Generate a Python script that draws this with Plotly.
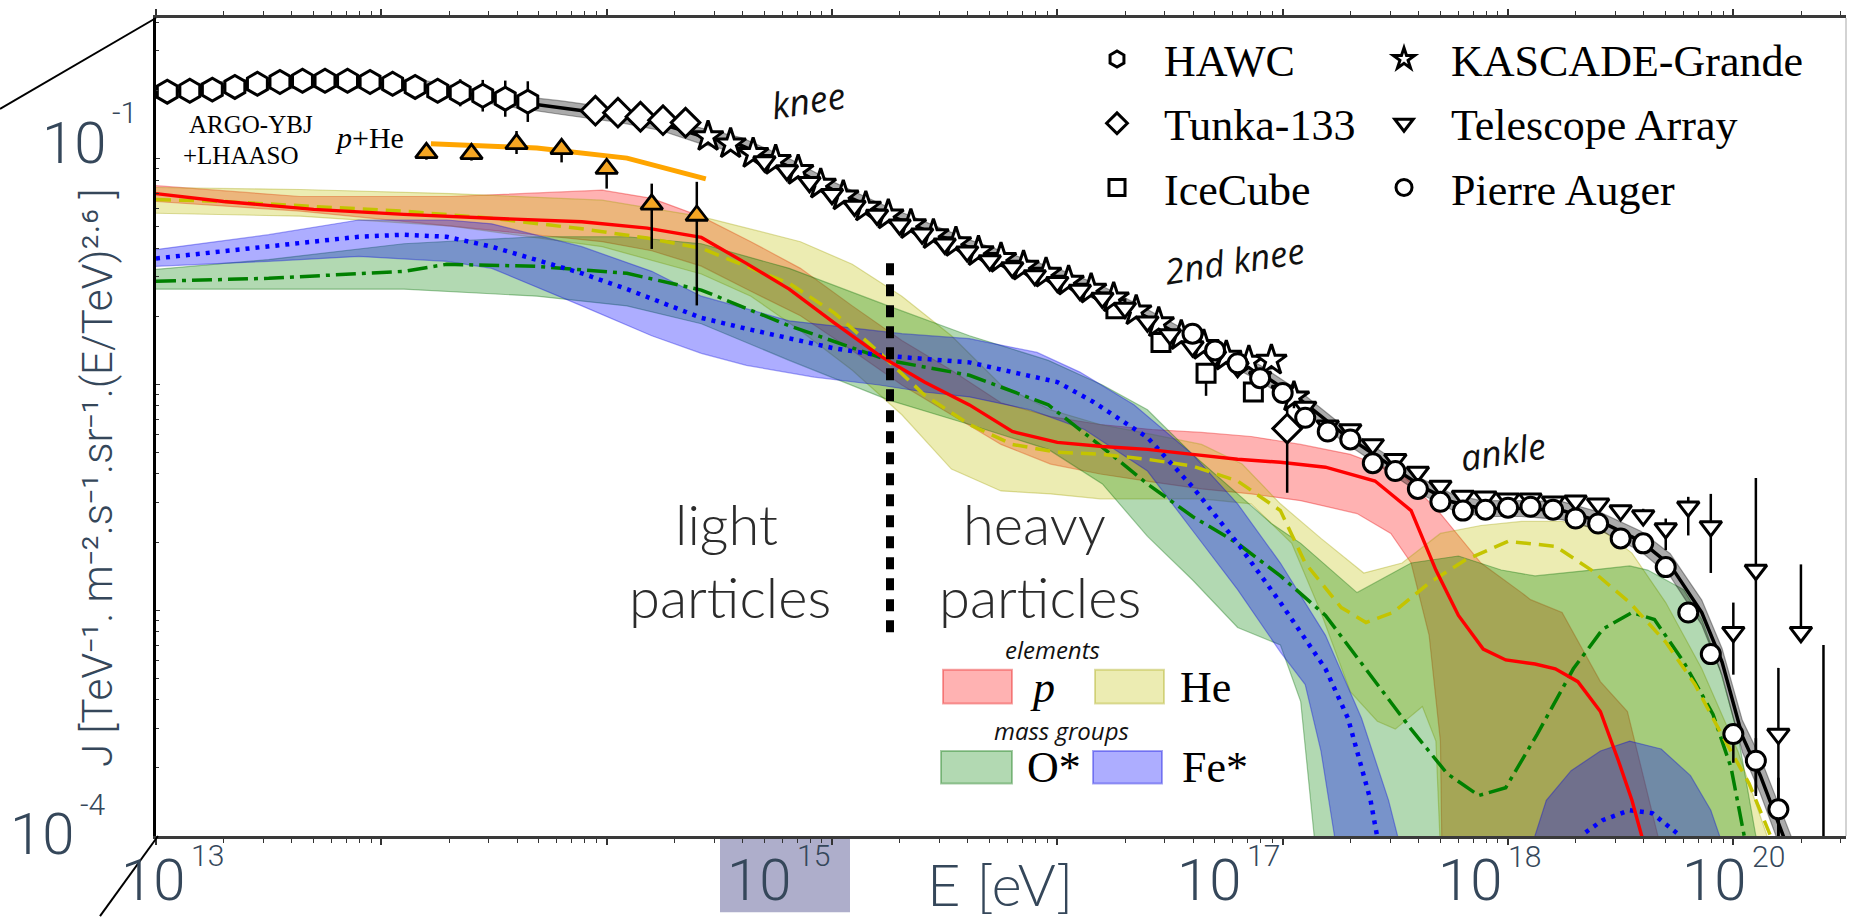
import numpy as np
import plotly.graph_objects as go

W, H = 1871, 917
PL, PR, PT, PB = 156, 1846, 9, 836


def fx(x):
    return (x - PL) / (PR - PL)


def fy(y):
    return (PB - y) / (PB - PT)


def V(a):
    return (10.0 ** np.asarray(a, dtype=float)).tolist()


# ---------------- data: log10(E / eV) and log10(J) ----------------
# all-particle model (line + band)
allp_logE = [13.0, 13.42, 13.78, 14.18, 14.53, 14.80, 15.06, 15.24, 15.42, 15.60, 15.82, 16.0, 16.22,
             16.40, 16.62, 16.80, 17.02, 17.19, 17.37, 17.55, 17.73, 17.90, 18.08, 18.26, 18.44, 18.62,
             18.75, 18.88, 19.06, 19.24, 19.41, 19.59, 19.72, 19.86, 19.95, 20.04, 20.12, 20.26]
allp_logJ = [-0.711, -0.675, -0.660, -0.680, -0.742, -0.777, -0.813, -0.848, -0.902, -0.945, -1.042,
             -1.138, -1.239, -1.313, -1.400, -1.462, -1.532, -1.597, -1.689, -1.786, -1.864, -1.952,
             -2.070, -2.214, -2.333, -2.455, -2.521, -2.551, -2.551, -2.560, -2.608, -2.696, -2.801,
             -3.011, -3.230, -3.558, -3.733, -4.1]
allp_halfw = [0.025, 0.025, 0.025, 0.025, 0.025, 0.03, 0.03, 0.03, 0.035, 0.035, 0.035, 0.035, 0.035,
              0.035, 0.035, 0.035, 0.035, 0.035, 0.035, 0.035, 0.035, 0.035, 0.035, 0.035, 0.035, 0.035,
              0.035, 0.035, 0.035, 0.04, 0.04, 0.045, 0.05, 0.055, 0.06, 0.07, 0.08, 0.09]

# proton
p_line_logE = [13.0, 13.30, 13.70, 14.10, 14.49, 14.89, 15.18, 15.42, 15.62, 15.81, 16.01, 16.21, 16.41,
               16.61, 16.80, 17.0, 17.2, 17.4, 17.6, 17.8, 17.99, 18.19, 18.41, 18.57, 18.68, 18.78,
               18.89, 18.99, 19.12, 19.21, 19.31, 19.41, 19.49, 19.55, 19.61]
p_line_logJ = [-1.157, -1.192, -1.227, -1.249, -1.266, -1.282, -1.310, -1.351, -1.466, -1.580, -1.729,
               -1.873, -1.991, -2.092, -2.210, -2.258, -2.276, -2.289, -2.311, -2.333, -2.346, -2.368,
               -2.429, -2.560, -2.823, -3.024, -3.173, -3.221, -3.239, -3.260, -3.317, -3.449, -3.667,
               -3.842, -4.06]
p_up_logE = [13.0, 13.64, 14.31, 14.98, 15.20, 15.42, 15.64, 15.86, 16.09, 16.31, 16.53, 16.75, 16.97,
             17.19, 17.42, 17.64, 17.86, 18.08, 18.30, 18.53, 18.70, 18.88, 19.06, 19.10, 19.24, 19.41,
             19.53, 19.64, 19.68]
p_up_logJ = [-1.122, -1.170, -1.170, -1.142, -1.178, -1.259, -1.370, -1.488, -1.654, -1.807, -1.939,
             -2.083, -2.144, -2.179, -2.201, -2.214, -2.232, -2.267, -2.311, -2.398, -2.573, -2.792,
             -2.923, -2.954, -3.011, -3.317, -3.449, -3.908, -4.06]
p_lo_logE = [13.0, 13.64, 14.31, 14.98, 15.20, 15.42, 15.64, 15.86, 16.09, 16.31, 16.53, 16.75, 16.97,
             17.19, 17.42, 17.64, 17.86, 18.08, 18.33, 18.48, 18.57, 18.65, 18.70, 18.71, 19.68]
p_lo_logJ = [-1.192, -1.235, -1.301, -1.370, -1.410, -1.478, -1.589, -1.698, -1.851, -2.004, -2.136,
             -2.267, -2.354, -2.398, -2.433, -2.464, -2.486, -2.516, -2.573, -2.661, -2.792, -3.112,
             -3.580, -4.3, -4.3]

# helium
he_line_logE = [13.0, 13.30, 13.70, 14.10, 14.49, 14.89, 15.18, 15.42, 15.62, 15.81, 16.01, 16.21,
                16.41, 16.61, 16.80, 17.0, 17.2, 17.4, 17.6, 17.8, 17.99, 18.10, 18.26, 18.37, 18.49,
                18.65, 18.81, 19.0, 19.21, 19.37, 19.54, 19.70, 19.83, 19.94, 20.07, 20.19]
he_line_logJ = [-1.183, -1.192, -1.214, -1.235, -1.266, -1.313, -1.354, -1.399, -1.479, -1.554, -1.685,
                -1.860, -2.048, -2.179, -2.267, -2.302, -2.311, -2.333, -2.363, -2.429, -2.560, -2.792,
                -2.989, -3.055, -3.011, -2.880, -2.779, -2.696, -2.718, -2.823, -2.967, -3.142, -3.330,
                -3.536, -3.768, -4.06]
he_up_logE = [13.0, 13.64, 14.31, 14.98, 15.42, 15.64, 15.86, 16.09, 16.31, 16.53, 16.75, 16.97, 17.19,
              17.42, 17.64, 17.82, 17.99, 18.17, 18.36, 18.53, 18.70, 18.88, 19.06, 19.24, 19.41, 19.55,
              19.70, 19.86, 20.02, 20.15, 20.19]
he_up_logJ = [-1.130, -1.139, -1.157, -1.186, -1.259, -1.313, -1.370, -1.470, -1.611, -1.786, -2.004,
              -2.114, -2.179, -2.223, -2.267, -2.354, -2.530, -2.683, -2.836, -2.792, -2.661, -2.626,
              -2.608, -2.608, -2.639, -2.748, -2.967, -3.260, -3.624, -4.0, -4.06]
he_lo_logE = [13.0, 13.64, 14.31, 14.98, 15.42, 15.64, 15.86, 16.09, 16.31, 16.53, 16.75, 16.97, 17.19,
              17.42, 17.64, 17.86, 18.04, 18.17, 18.30, 18.42, 18.50, 18.62, 18.68, 18.71, 20.19]
he_lo_logJ = [-1.244, -1.257, -1.301, -1.392, -1.513, -1.611, -1.764, -1.939, -2.136, -2.376, -2.473,
              -2.486, -2.508, -2.508, -2.508, -2.530, -2.705, -3.011, -3.361, -3.492, -3.527, -3.427,
              -3.580, -4.3, -4.3]

# O* mass group
o_line_logE = [13.0, 13.50, 14.10, 14.29, 14.69, 15.09, 15.42, 15.81, 16.25, 16.61, 16.96, 17.2, 17.4,
               17.6, 17.8, 17.99, 18.19, 18.41, 18.57, 18.73, 18.87, 18.99, 19.13, 19.29, 19.42, 19.55,
               19.65, 19.78, 19.91, 19.99, 20.06]
o_line_logJ = [-1.545, -1.532, -1.501, -1.470, -1.479, -1.510, -1.584, -1.742, -1.895, -1.961, -2.092,
               -2.280, -2.442, -2.586, -2.705, -2.849, -3.024, -3.317, -3.527, -3.724, -3.821, -3.786,
               -3.549, -3.260, -3.085, -3.011, -3.042, -3.230, -3.462, -3.698, -4.06]
o_up_logE = [13.0, 13.50, 14.10, 14.69, 15.09, 15.42, 15.81, 16.25, 16.61, 16.96, 17.2, 17.4, 17.6,
             17.8, 17.95, 18.08, 18.33, 18.57, 18.78, 18.97, 19.12, 19.37, 19.54, 19.62, 19.78, 19.86,
             19.94, 20.02, 20.10, 20.12]
o_up_logJ = [-1.492, -1.449, -1.379, -1.348, -1.348, -1.379, -1.488, -1.654, -1.786, -1.895, -2.004,
             -2.114, -2.311, -2.486, -2.617, -2.705, -2.923, -2.792, -2.761, -2.823, -2.849, -2.823,
             -2.805, -2.823, -2.910, -3.042, -3.260, -3.549, -4.0, -4.06]
o_lo_logE = [13.0, 13.50, 14.10, 14.69, 15.09, 15.42, 15.81, 16.25, 16.61, 16.96, 17.2, 17.4, 17.6,
             17.8, 17.99, 18.08, 18.17, 20.12]
o_lo_logJ = [-1.580, -1.580, -1.580, -1.611, -1.654, -1.733, -1.895, -2.070, -2.179, -2.289, -2.442,
             -2.674, -2.867, -3.077, -3.155, -3.405, -4.3, -4.3]

# Fe* mass group
fe_line_logE = [13.0, 13.50, 13.90, 14.10, 14.29, 14.49, 14.69, 14.89, 15.09, 15.29, 15.42, 15.62,
                15.81, 16.01, 16.21, 16.41, 16.61, 16.80, 17.0, 17.16, 17.4, 17.6, 17.8, 17.99, 18.19,
                18.29, 18.39, 18.43]
fe_line_logJ = [-1.444, -1.392, -1.348, -1.339, -1.348, -1.392, -1.449, -1.510, -1.580, -1.654, -1.707,
                -1.755, -1.799, -1.842, -1.873, -1.886, -1.904, -1.947, -1.991, -2.079, -2.236, -2.455,
                -2.705, -2.967, -3.260, -3.479, -3.842, -4.06]
fe_up_logE = [13.0, 13.50, 13.90, 14.29, 14.49, 14.89, 15.20, 15.42, 15.81, 16.01, 16.31, 16.61, 16.91,
              17.10, 17.34, 17.6, 17.8, 17.99, 18.19, 18.35, 18.47, 18.51, 18.53]
fe_up_logJ = [-1.405, -1.339, -1.274, -1.274, -1.291, -1.392, -1.501, -1.611, -1.720, -1.742, -1.777,
              -1.799, -1.860, -1.947, -2.092, -2.311, -2.530, -2.792, -3.112, -3.479, -3.842, -4.0, -4.06]
fe_lo_logE = [13.0, 13.50, 13.90, 14.29, 14.49, 14.89, 15.20, 15.42, 15.62, 15.92, 16.21, 16.41, 16.61,
              16.88, 17.12, 17.4, 17.6, 17.8, 17.99, 18.10, 18.17, 18.23, 18.25]
fe_lo_logJ = [-1.479, -1.457, -1.435, -1.457, -1.488, -1.654, -1.786, -1.864, -1.917, -1.969, -2.004,
              -2.035, -2.057, -2.114, -2.201, -2.385, -2.648, -2.910, -3.186, -3.330, -3.624, -4.0, -4.06]
fe2_line_logE = [19.30, 19.34, 19.42, 19.54, 19.64, 19.75, 19.78]
fe2_line_logJ = [-4.06, -3.987, -3.930, -3.886, -3.899, -3.987, -4.06]
fe2_up_logE = [19.10, 19.17, 19.28, 19.41, 19.54, 19.68, 19.81, 19.90, 19.96]
fe2_up_logJ = [-4.06, -3.842, -3.711, -3.624, -3.580, -3.615, -3.733, -3.886, -4.06]
fe2_lo_logE = [19.10, 19.96]
fe2_lo_logJ = [-4.3, -4.3]

# measurements
hawc_logE = [13.05, 13.15, 13.25, 13.35, 13.45, 13.55, 13.65, 13.75, 13.85, 13.95, 14.05, 14.15, 14.25,
             14.35, 14.45, 14.55, 14.65]
hawc_logJ = [-0.706, -0.702, -0.697, -0.685, -0.671, -0.663, -0.658, -0.658, -0.658, -0.663, -0.671,
             -0.685, -0.702, -0.711, -0.724, -0.737, -0.750]
hawc_err = [0.045, 0.045, 0.045, 0.04, 0.035, 0.035, 0.035, 0.035, 0.035, 0.035, 0.04, 0.045, 0.05,
            0.06, 0.07, 0.08, 0.09]

tunka_logE = [14.95, 15.05, 15.15, 15.25, 15.35, 18.02]
tunka_logJ = [-0.790, -0.799, -0.817, -0.832, -0.843, -2.197]
tunka_eup = [0.01, 0.01, 0.01, 0.01, 0.01, 0.105]
tunka_edn = [0.01, 0.01, 0.01, 0.01, 0.01, 0.284]

ice_logE = [17.26, 17.46, 17.66, 17.87]
ice_logJ = [-1.667, -1.816, -1.952, -2.035]
ice_eup = [0.02, 0.02, 0.03, 0.02]
ice_edn = [0.02, 0.02, 0.10, 0.03]

kg_logE = [15.45, 15.55, 15.65, 15.75, 15.85, 15.95, 16.05, 16.15, 16.25, 16.35, 16.45, 16.55, 16.65,
           16.75, 16.85, 16.95, 17.05, 17.15, 17.25, 17.35, 17.45, 17.55, 17.65, 17.75, 17.85, 17.95,
           18.05]
kg_logJ = [-0.905, -0.937, -0.980, -1.011, -1.055, -1.116, -1.168, -1.217, -1.252, -1.295, -1.339,
           -1.374, -1.414, -1.444, -1.479, -1.510, -1.545, -1.580, -1.619, -1.676, -1.729, -1.786,
           -1.829, -1.877, -1.899, -1.895, -2.057]
kg_err = [0.01, 0.01, 0.01, 0.01, 0.01, 0.01, 0.01, 0.01, 0.01, 0.01, 0.01, 0.01, 0.01, 0.01, 0.01,
          0.01, 0.01, 0.01, 0.01, 0.01, 0.01, 0.015, 0.015, 0.02, 0.03, 0.04, 0.05]

ta_logE = [15.7, 15.8, 15.9, 16.0, 16.1, 16.2, 16.3, 16.4, 16.5, 16.6, 16.7, 16.8, 16.9, 17.0, 17.1,
           17.2, 17.3, 17.4, 17.5, 17.6, 17.7, 17.8, 17.9, 18.0, 18.1, 18.2, 18.3, 18.4, 18.5, 18.6,
           18.7, 18.8, 18.9, 19.0, 19.1, 19.2, 19.3, 19.4, 19.5, 19.6, 19.7, 19.8, 19.9, 20.0, 20.1,
           20.2, 20.3, 20.4]
ta_logJ = [-1.015, -1.055, -1.107, -1.160, -1.212, -1.252, -1.295, -1.335, -1.379, -1.414, -1.453,
           -1.484, -1.519, -1.549, -1.584, -1.619, -1.663, -1.724, -1.781, -1.834, -1.877, -1.926,
           -1.969, -2.031, -2.101, -2.184, -2.201, -2.267, -2.333, -2.389, -2.451, -2.495, -2.499,
           -2.508, -2.508, -2.521, -2.516, -2.530, -2.560, -2.582, -2.639, -2.543, -2.630, -3.098,
           -2.823, -3.549, -3.098, -4.3]
ta_eup = [0.005, 0.005, 0.005, 0.005, 0.005, 0.005, 0.005, 0.005, 0.005, 0.005, 0.005, 0.005, 0.005,
          0.005, 0.005, 0.005, 0.005, 0.005, 0.005, 0.005, 0.005, 0.005, 0.005, 0.005, 0.005, 0.005,
          0.005, 0.005, 0.005, 0.005, 0.005, 0.005, 0.005, 0.01, 0.01, 0.01, 0.015, 0.02, 0.02, 0.03,
          0.044, 0.044, 0.144, 0.131, 0.407, 0.293, 0.30, 1.145]
ta_edn = [0.005, 0.005, 0.005, 0.005, 0.005, 0.005, 0.005, 0.005, 0.005, 0.005, 0.005, 0.005, 0.005,
          0.005, 0.005, 0.005, 0.005, 0.005, 0.005, 0.005, 0.005, 0.005, 0.005, 0.005, 0.005, 0.005,
          0.005, 0.005, 0.005, 0.005, 0.005, 0.005, 0.005, 0.01, 0.01, 0.01, 0.015, 0.02, 0.02, 0.03,
          0.096, 0.127, 0.206, 0.188, 1.0, 0.451, 0.0, 0.0]

auger_logE = [17.6, 17.7, 17.8, 17.9, 18.0, 18.1, 18.2, 18.3, 18.4, 18.5, 18.6, 18.7, 18.8, 18.9,
              19.0, 19.1, 19.2, 19.3, 19.4, 19.5, 19.6, 19.7, 19.8, 19.9, 20.0, 20.1, 20.2]
auger_logJ = [-1.777, -1.851, -1.908, -1.974, -2.039, -2.149, -2.210, -2.245, -2.350, -2.385, -2.464,
              -2.521, -2.560, -2.556, -2.547, -2.543, -2.556, -2.595, -2.617, -2.683, -2.705, -2.810,
              -3.011, -3.195, -3.549, -3.667, -3.882]
auger_eup = [0.01, 0.01, 0.01, 0.01, 0.01, 0.01, 0.01, 0.01, 0.01, 0.01, 0.01, 0.01, 0.01, 0.01, 0.01,
             0.01, 0.01, 0.01, 0.01, 0.01, 0.015, 0.02, 0.03, 0.022, 0.022, 0.10, 0.14]
auger_edn = [0.01, 0.01, 0.01, 0.01, 0.01, 0.01, 0.01, 0.01, 0.01, 0.01, 0.01, 0.01, 0.01, 0.01, 0.01,
             0.01, 0.01, 0.01, 0.01, 0.01, 0.015, 0.02, 0.03, 0.04, 0.127, 0.144, 0.5]

argo_logE = [14.2, 14.4, 14.6, 14.8, 15.0, 15.2, 15.4]
argo_logJ = [-0.977, -0.981, -0.937, -0.959, -1.047, -1.205, -1.254]
argo_eup = [0.03, 0.03, 0.057, 0.035, 0.035, 0.092, 0.149]
argo_edn = [0.03, 0.03, 0.045, 0.06, 0.088, 0.197, 0.398]
argo_fit_logE = [14.22, 14.69, 15.09, 15.44]
argo_fit_logJ = [-0.937, -0.955, -1.000, -1.092]

# ---------------- figure ----------------
fig = go.Figure()


def add_band(upE, upJ, loE, loJ, fill, edge):
    fig.add_trace(go.Scatter(
        x=V(list(upE) + list(loE)[::-1]), y=V(list(upJ) + list(loJ)[::-1]),
        mode="lines", fill="toself", fillcolor=fill, line=dict(color=edge, width=1.2),
        hoverinfo="skip", showlegend=False))


def add_line(E, J, color, width, dash):
    fig.add_trace(go.Scatter(x=V(E), y=V(J), mode="lines", line=dict(color=color, width=width, dash=dash),
                             hoverinfo="skip", showlegend=False))


def err(J, up, dn):
    J = np.asarray(J, float)
    v = 10.0 ** J
    return dict(type="data", symmetric=False, array=(10.0 ** (J + np.asarray(up)) - v).tolist(),
                arrayminus=(v - 10.0 ** (J - np.asarray(dn))).tolist(), color="black", thickness=2.5,
                width=0)


P_FILL, P_EDGE = "rgba(255,0,0,0.30)", "rgba(230,0,0,0.35)"
HE_FILL, HE_EDGE = "rgba(191,191,0,0.30)", "rgba(160,160,0,0.35)"
O_FILL, O_EDGE = "rgba(0,128,0,0.30)", "rgba(0,110,0,0.35)"
FE_FILL, FE_EDGE = "rgba(0,0,255,0.32)", "rgba(0,0,220,0.35)"

add_band(p_up_logE, p_up_logJ, p_lo_logE, p_lo_logJ, P_FILL, P_EDGE)
add_band(he_up_logE, he_up_logJ, he_lo_logE, he_lo_logJ, HE_FILL, HE_EDGE)
add_band(o_up_logE, o_up_logJ, o_lo_logE, o_lo_logJ, O_FILL, O_EDGE)
add_band(fe_up_logE, fe_up_logJ, fe_lo_logE, fe_lo_logJ, FE_FILL, FE_EDGE)
add_band(fe2_up_logE, fe2_up_logJ, fe2_lo_logE, fe2_lo_logJ, FE_FILL, FE_EDGE)

add_line(o_line_logE, o_line_logJ, "#008000", 3.5, "20px,6px,4px,6px")
add_line(he_line_logE, he_line_logJ, "#c4c400", 3.5, "15px,8px")
add_line(fe_line_logE, fe_line_logJ, "#0000ff", 4.5, "4px,6px")
add_line(fe2_line_logE, fe2_line_logJ, "#0000ff", 4.5, "4px,6px")
add_line(p_line_logE, p_line_logJ, "#ff0000", 3.4, "solid")

# all-particle band and line
aE = np.asarray(allp_logE)
aJ = np.asarray(allp_logJ)
aw = np.asarray(allp_halfw)
add_band(aE.tolist(), (aJ + aw).tolist(), aE.tolist(), (aJ - aw).tolist(), "rgba(0,0,0,0.33)",
         "rgba(0,0,0,0.35)")
add_line(allp_logE, allp_logJ, "black", 3.5, "solid")

# ARGO-YBJ + LHAASO p+He
add_line(argo_fit_logE, argo_fit_logJ, "#ffa500", 5, "solid")
fig.add_trace(go.Scatter(x=V(argo_logE), y=V(argo_logJ), mode="markers",
                         marker=dict(symbol="triangle-up", size=19, color="#f5a623",
                                     line=dict(color="black", width=2.8)),
                         error_y=err(argo_logJ, argo_eup, argo_edn), showlegend=False, hoverinfo="skip"))

MK = dict(color="white", line=dict(color="black", width=3))


def add_data(name, E, J, eup, edn, symbol, size, legend):
    fig.add_trace(go.Scatter(x=V(E), y=V(J), mode="markers", name=name, legendgroup=name, legend=legend,
                             marker=dict(symbol=symbol, size=size, **MK), error_y=err(J, eup, edn),
                             hoverinfo="skip"))


add_data("HAWC", hawc_logE, hawc_logJ, hawc_err, hawc_err, "hexagon", 23, "legend")
add_data("Tunka-133", tunka_logE, tunka_logJ, tunka_eup, tunka_edn, "diamond", 22, "legend")
add_data("IceCube", ice_logE, ice_logJ, ice_eup, ice_edn, "square", 18, "legend")
add_data("KASCADE-Grande", kg_logE, kg_logJ, kg_err, kg_err, "star", 23, "legend2")
add_data("Telescope Array", ta_logE, ta_logJ, ta_eup, ta_edn, "triangle-down", 19, "legend2")
add_data("Pierre Auger", auger_logE, auger_logJ, auger_eup, auger_edn, "circle", 19, "legend2")

# ---------------- layout ----------------
AX_COL = "#35475a"
TICKF = "Roboto, Lato, sans-serif"
GEO = "Lato, Roboto, sans-serif"
SERIF = "Liberation Serif, Times New Roman, serif"
HUM = "Open Sans, Noto Sans, sans-serif"

ann = []


def txt(s, x, y, size, family, color="black", xa="center", ya="middle", angle=0, style="normal",
        weight="normal"):
    ann.append(dict(text=s, x=fx(x), y=fy(y), xref="paper", yref="paper", xanchor=xa, yanchor=ya,
                    showarrow=False, textangle=angle,
                    font=dict(size=size, family=family, color=color, style=style, weight=weight)))


# overlay tick labels: base "10" centred, exponent placed just right of it
for bx, by, ey, e in [(153, 880, 856, "13"), (759, 880, 856, "15"), (1209, 880, 856, "17"),
                      (1470, 880, 857, "18"), (1714, 880, 857, "20"), (74, 135, 105, "-1"),
                      (42, 834, 804, "-4")]:
    txt("10", bx, by, 58, TICKF, AX_COL, weight=300)
    txt(e, bx + 36, ey, 30, TICKF, AX_COL, xa="left", weight=300)
txt("E [eV]", 1000, 884, 58, GEO, AX_COL, weight=300)
txt("J [TeV⁻¹. m⁻².s⁻¹.sr⁻¹.(E/TeV)²·⁶ ]", 98, 474, 42, TICKF, AX_COL, angle=-90, weight=300)

# in-plot labels
txt("ARGO-YBJ", 187, 117, 25, SERIF, xa="left")
txt("+LHAASO", 181, 148, 25, SERIF, xa="left")
txt("<i>p</i>+He", 333, 130, 30, SERIF, xa="left")
txt("knee", 808, 92, 36, HUM, "#111111", angle=-9, style="italic")
txt("2nd knee", 1234, 254, 35, HUM, "#111111", angle=-9, style="italic")
txt("ankle", 1503, 447, 36, HUM, "#111111", angle=-9, style="italic")
txt("light", 726, 520, 56, GEO, "#2b2b2b", weight=300)
txt("particles", 730, 594, 56, GEO, "#2b2b2b", weight=300)
txt("heavy", 1034, 520, 56, GEO, "#2b2b2b", weight=300)
txt("particles", 1040, 594, 56, GEO, "#2b2b2b", weight=300)

# composition key
txt("elements", 1052, 647, 24, HUM, "#111111", style="italic")
txt("mass groups", 1061, 729, 24, HUM, "#111111", style="italic")
txt("p", 1028, 686, 44, SERIF, xa="left", style="italic")
txt("He", 1178, 686, 44, SERIF, xa="left")
txt("O*", 1025, 767, 44, SERIF, xa="left")
txt("Fe*", 1180, 767, 44, SERIF, xa="left")

shapes = []
for (x0, x1, y0, y1, fc, lc) in [(943, 1012, 668, 702, P_FILL, P_EDGE), (1095, 1164, 668, 702, HE_FILL, HE_EDGE),
                                 (941, 1012, 750, 783, O_FILL, O_EDGE), (1093, 1162, 750, 783, FE_FILL, FE_EDGE)]:
    shapes.append(dict(type="rect", xref="paper", yref="paper", x0=fx(x0), x1=fx(x1), y0=fy(y1), y1=fy(y0),
                       fillcolor=fc, line=dict(color=lc, width=2)))

# highlight box behind 10^15
shapes.append(dict(type="rect", xref="paper", yref="paper", x0=fx(720), x1=fx(850), y0=fy(913), y1=fy(837),
                   fillcolor="#aeaecb", line=dict(width=0), layer="below"))
# light / heavy divider
shapes.append(dict(type="line", xref="paper", yref="paper", x0=fx(890), x1=fx(890), y0=fy(630), y1=fy(248),
                   line=dict(color="black", width=8, dash="12px,9px")))
# decorative diagonals
shapes.append(dict(type="line", xref="paper", yref="paper", x0=fx(0), y0=fy(101), x1=fx(156), y1=fy(9),
                   line=dict(color="black", width=2)))
shapes.append(dict(type="line", xref="paper", yref="paper", x0=fx(158), y0=fy(836), x1=fx(100), y1=fy(917),
                   line=dict(color="black", width=2)))
# right border
shapes.append(dict(type="line", xref="paper", yref="paper", x0=1, x1=1, y0=0, y1=1,
                   line=dict(color="#c4c4c4", width=1.5)))

LEG = dict(xanchor="left", yanchor="top", font=dict(family=SERIF, size=44, color="black"),
           bgcolor="rgba(0,0,0,0)", itemwidth=84, tracegroupgap=4, traceorder="grouped",
           itemclick=False, itemdoubleclick=False)

fig.update_layout(
    width=W, height=H,
    margin=dict(l=PL, r=W - PR, t=PT, b=H - PB, pad=0),
    paper_bgcolor="white", plot_bgcolor="white",
    showlegend=True,
    legend=dict(x=fx(1070), y=fy(15), **LEG),
    legend2=dict(x=fx(1357), y=fy(15), **LEG),
    xaxis=dict(type="log", range=[13, 20.5], showgrid=False, zeroline=False, showline=True,
               linecolor="#3a3a3a", linewidth=3, mirror="ticks", ticks="outside", ticklen=6,
               tickwidth=1.5, tickcolor="#333333", dtick=1, showticklabels=False,
               minor=dict(ticks="outside", ticklen=4, tickwidth=1, tickcolor="#333333", dtick="D1",
                          showgrid=False)),
    yaxis=dict(type="log", range=[-4, -0.38], showgrid=False, zeroline=False, showline=True,
               linecolor="black", linewidth=3, ticks="inside", ticklen=4, tickwidth=1,
               tickcolor="#333333", dtick=1, showticklabels=False,
               minor=dict(ticks="inside", ticklen=3, tickwidth=1, tickcolor="#333333", dtick="D1",
                          showgrid=False)),
    annotations=ann,
    shapes=shapes,
)

fig.write_html("out.html", config={"displayModeBar": False})
